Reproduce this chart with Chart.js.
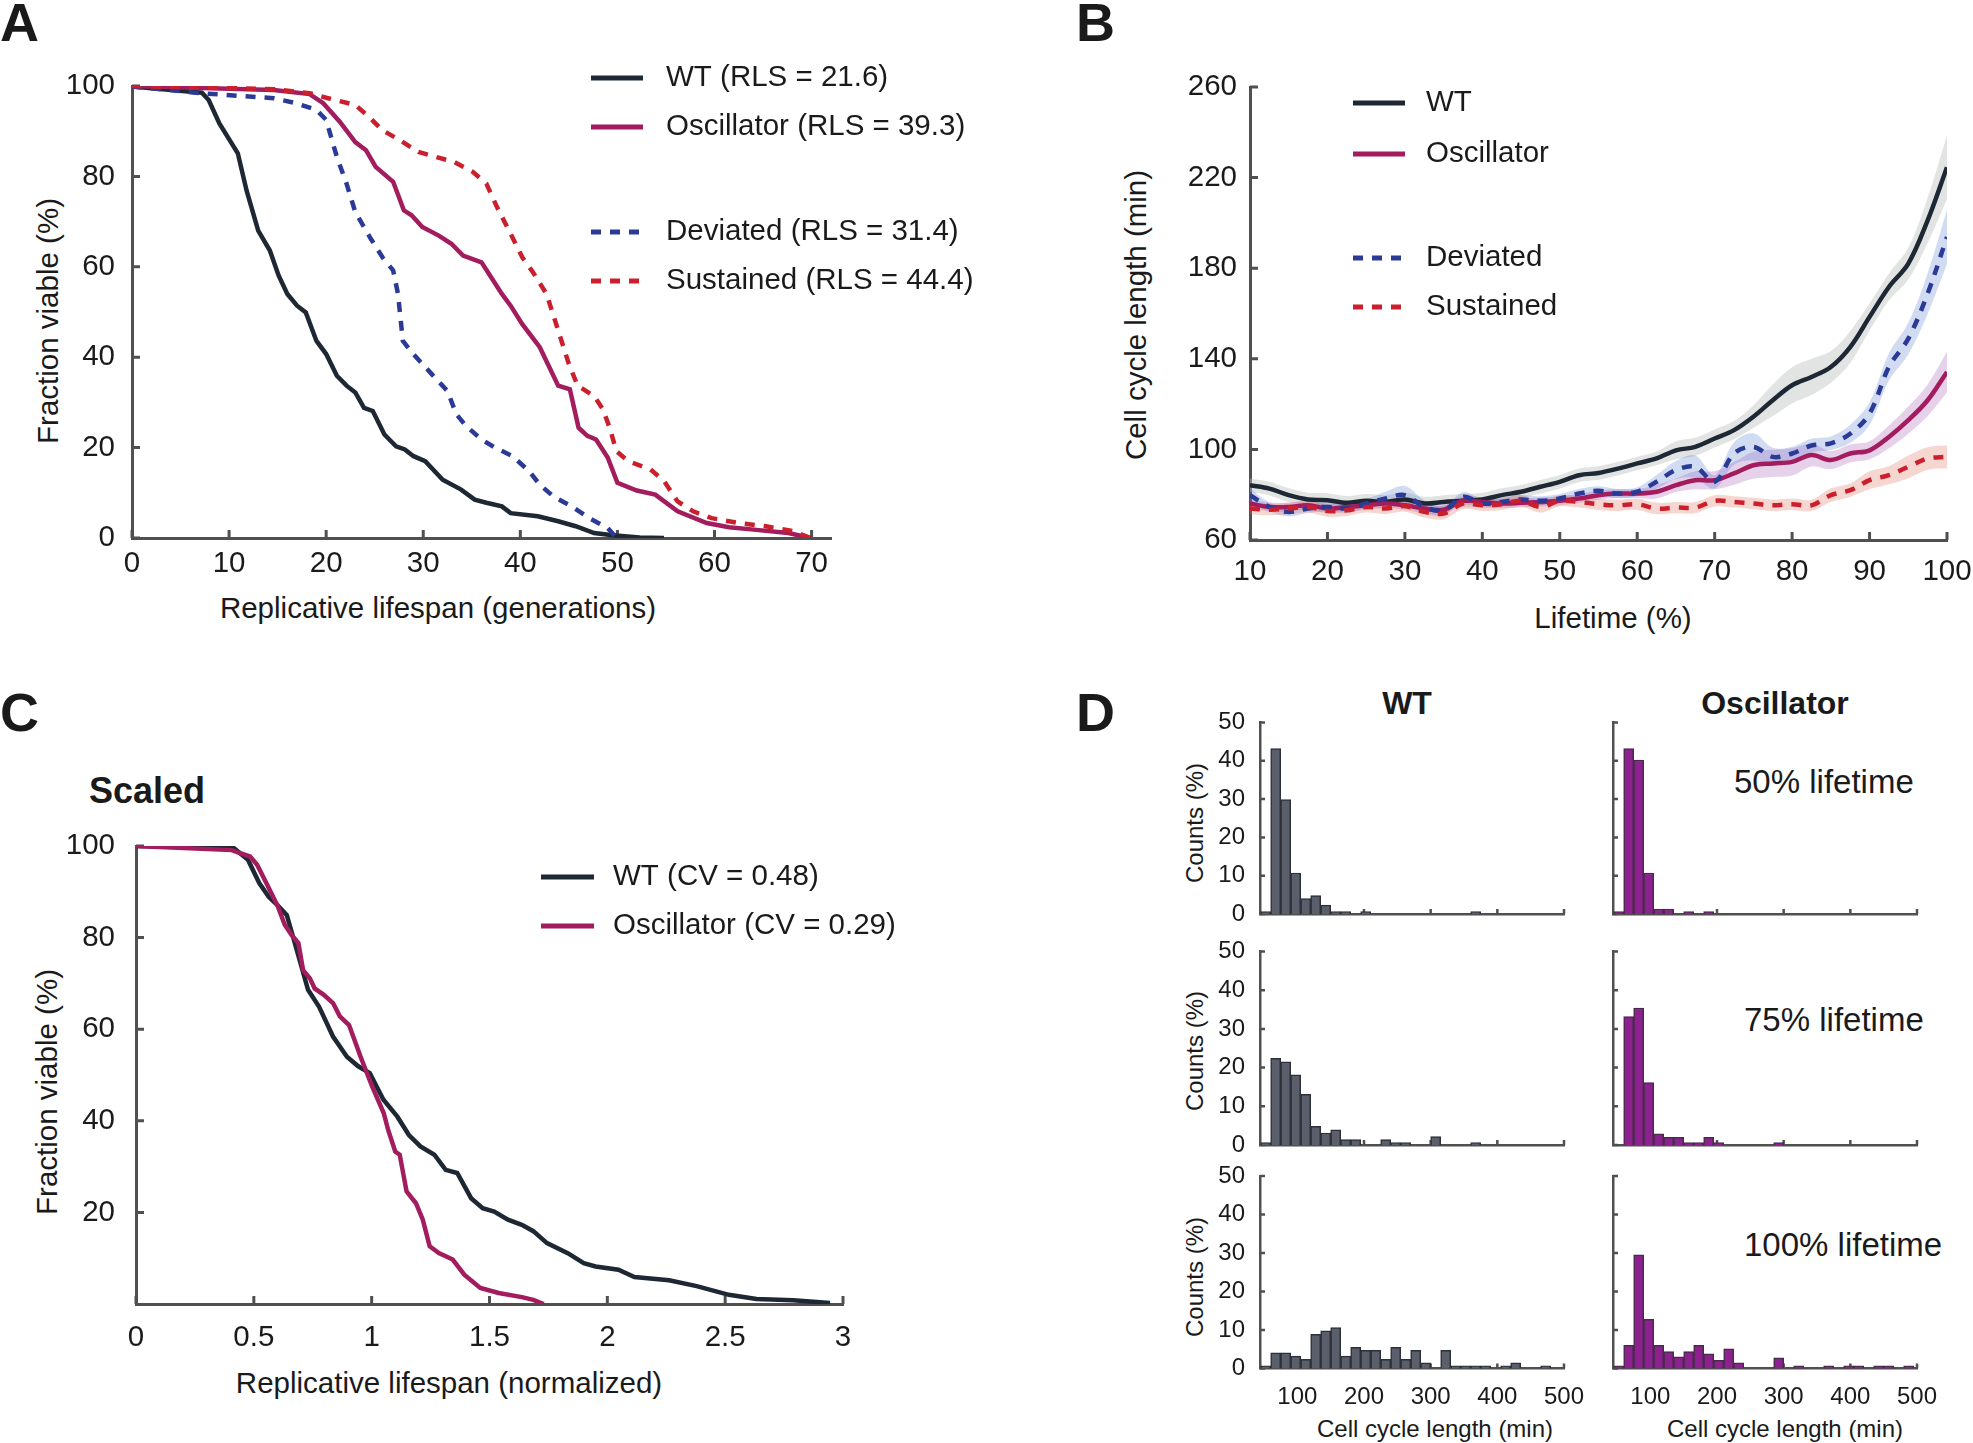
<!DOCTYPE html>
<html lang="en">
<head>
<meta charset="UTF-8">
<title>Replicative lifespan and cell cycle length</title>
<script src="https://cdn.jsdelivr.net/npm/chart.js"></script>
<style>
  body {
    margin: 0;
    width: 1973px;
    height: 1443px;
    position: relative;
    overflow: hidden;
    background: #fff;
    font-family: 'Liberation Sans', Arial, Helvetica, sans-serif;
    color: #1a1a1a;
  }
  canvas { position: absolute; }
  .txt { position: absolute; white-space: nowrap; line-height: 1; transform: translate(-50%, -50%); }
  .left { transform: translate(0, -50%); }
  .rot { transform: translate(-50%, -50%) rotate(-90deg); }
  .panel { font-size: 54px; font-weight: bold; }
  .big { font-size: 29.5px; }
  .small { font-size: 24px; }
  .head { font-size: 32px; font-weight: bold; }
  .note { font-size: 33px; }
</style>
</head>
<body>
  <div class="txt left panel" style="left:0;top:22px">A</div>
  <div class="txt left panel" style="left:1076px;top:22px">B</div>
  <div class="txt left panel" style="left:0;top:712px">C</div>
  <div class="txt left panel" style="left:1076px;top:712px">D</div>

  <div class="txt rot big" style="left:48px;top:321px">Fraction viable (%)</div>
  <div class="txt big" style="left:438px;top:608px">Replicative lifespan (generations)</div>
  <div class="txt rot big" style="left:1136px;top:315px">Cell cycle length (min)</div>
  <div class="txt big" style="left:1613px;top:618px">Lifetime (%)</div>

  <div class="txt left" style="left:89px;top:791px;font-size:36px;font-weight:bold">Scaled</div>
  <div class="txt rot big" style="left:47px;top:1092px">Fraction viable (%)</div>
  <div class="txt big" style="left:449px;top:1383px">Replicative lifespan (normalized)</div>

  <div class="txt head" style="left:1407px;top:703px">WT</div>
  <div class="txt head" style="left:1775px;top:703px">Oscillator</div>
  <div class="txt left note" style="left:1734px;top:781px">50% lifetime</div>
  <div class="txt left note" style="left:1744px;top:1019px">75% lifetime</div>
  <div class="txt left note" style="left:1744px;top:1244px">100% lifetime</div>
  <div class="txt rot small" style="left:1195px;top:823px">Counts (%)</div>
  <div class="txt rot small" style="left:1195px;top:1051px">Counts (%)</div>
  <div class="txt rot small" style="left:1195px;top:1277px">Counts (%)</div>
  <div class="txt small" style="left:1435px;top:1429px">Cell cycle length (min)</div>
  <div class="txt small" style="left:1785px;top:1429px">Cell cycle length (min)</div>

  <canvas id="chartA"></canvas>
  <canvas id="chartB"></canvas>
  <canvas id="chartC"></canvas>
  <canvas id="d1"></canvas>
  <canvas id="d2"></canvas>
  <canvas id="d3"></canvas>
  <canvas id="d4"></canvas>
  <canvas id="d5"></canvas>
  <canvas id="d6"></canvas>

<script>
// ---- Panel A: fraction viable vs generations ----
const aTicksX = [0, 10, 20, 30, 40, 50, 60, 70];
const aTicksY = [0, 20, 40, 60, 80, 100];
const aWTx = [0, 7.2, 7.9, 9.0, 10.9, 11.8, 13.0, 14.2, 15.1, 16.0, 17.0, 17.9, 19.0, 20.0, 21.1, 22.1, 23.0, 23.9, 24.8, 26.0, 27.2, 28.1, 29.0, 30.2, 32.0, 33.9, 35.3, 36.5, 38.1, 39.0, 41.8, 43.9, 45.7, 47.6, 49.5, 52.3, 54.8];
const aWTy = [99.9, 98.5, 96.9, 91.7, 85.1, 76.9, 68.0, 63.6, 58.1, 54.0, 51.4, 49.9, 43.6, 40.7, 35.9, 33.7, 32.2, 28.8, 28.1, 22.9, 20.3, 19.6, 18.1, 17.0, 12.9, 10.7, 8.5, 7.8, 7.0, 5.5, 4.8, 3.7, 2.6, 1.1, 0.6, 0.1, 0];
const aOscx = [0, 14.6, 18.3, 19.7, 21.4, 23.0, 24.1, 25.1, 26.9, 28.0, 28.8, 29.9, 31.6, 32.9, 34.1, 36.0, 38.1, 39.0, 40.2, 42.0, 43.9, 45.1, 46.0, 46.9, 47.8, 49.0, 50.0, 52.0, 53.9, 56.2, 59.2, 61.5, 64.3, 67.6, 69.9];
const aOscy = [100, 99.1, 98.2, 96.2, 92.1, 87.6, 85.8, 82.1, 78.8, 72.5, 71.4, 68.8, 66.9, 65.1, 62.5, 61.0, 54.0, 51.4, 47.3, 42.2, 33.7, 32.9, 24.4, 22.6, 21.8, 17.8, 12.2, 10.5, 9.6, 5.9, 3.3, 2.4, 1.8, 1.1, 0];
const aDevx = [0, 7.2, 14.6, 16.9, 19.0, 20.0, 21.1, 22.1, 23.0, 24.6, 25.8, 26.9, 27.4, 27.9, 28.8, 30.9, 32.5, 33.4, 34.4, 36.0, 37.4, 39.2, 40.9, 42.0, 43.4, 45.3, 47.1, 49.0, 49.9];
const aDevy = [99.9, 98.4, 97.3, 96.2, 94.7, 92.5, 84.3, 78.4, 72.1, 66.2, 62.1, 59.2, 54.0, 43.6, 41.1, 36.2, 32.5, 27.4, 24.8, 21.8, 20.0, 18.1, 14.8, 11.8, 9.2, 7.0, 4.4, 2.2, 0];
const aSusx = [0, 14.6, 18.3, 20.2, 23.0, 24.4, 25.8, 27.6, 29.5, 31.3, 33.2, 35.1, 36.5, 37.6, 39.0, 40.2, 41.3, 42.7, 43.9, 45.0, 45.9, 47.6, 48.5, 49.2, 49.9, 51.1, 53.4, 54.8, 56.2, 57.8, 59.7, 62.5, 65.3, 68.1, 69.9];
const aSusy = [100, 99.3, 98.4, 97.3, 95.8, 93.2, 90.2, 88.0, 85.4, 84.3, 83.2, 81.0, 78.4, 73.2, 67.3, 62.1, 58.8, 54.0, 45.9, 38.5, 33.7, 31.4, 28.5, 24.4, 19.2, 17.0, 15.2, 12.6, 8.1, 5.9, 4.4, 3.3, 2.6, 1.5, 0];

// ---- Panel B: cell cycle length vs lifetime (mean and band half-width) ----
const bTicksX = [10, 20, 30, 40, 50, 60, 70, 80, 90, 100];
const bTicksY = [60, 100, 140, 180, 220, 260];
const bX = [10, 12.5, 15, 17.5, 20, 22.5, 25, 27.5, 30, 32.5, 35, 37.5, 40, 42.5, 45, 47.5, 50, 52.5, 55, 57.5, 60, 62.5, 65, 67.5, 70, 72.5, 75, 77.5, 80, 82.5, 85, 87.5, 90, 92.5, 95, 97.5, 100];
const bWT = [84.2, 82.7, 79.8, 77.9, 77.6, 76.4, 77.3, 76.8, 77.9, 76.1, 76.8, 77.3, 77.9, 79.8, 81.3, 83.5, 85.7, 88.6, 89.6, 91.5, 93.8, 96.0, 99.6, 101.1, 104.8, 108.5, 114.4, 121.7, 128.3, 132.0, 136.4, 145.2, 158.5, 171.7, 182.0, 201.1, 224.6];
const bWTerr = [3, 3, 3, 3, 3, 3, 3, 3, 3, 3, 3, 3, 3, 3, 3, 3, 3, 3, 3, 3, 3, 3, 4, 4, 4, 4, 5, 7, 8, 8, 7, 7, 6, 6, 7, 10, 14];
const bOsc = [76.1, 74.6, 74.6, 75.3, 73.9, 74.6, 75.3, 76.1, 75.3, 73.9, 73.4, 77.3, 76.8, 76.1, 76.4, 76.8, 77.3, 78.3, 79.8, 80.5, 80.5, 81.3, 84.2, 86.4, 86.4, 89.4, 93.0, 93.8, 94.5, 97.5, 95.3, 98.2, 99.6, 105.5, 112.9, 121.7, 134.2];
const bOscErr = [2, 2, 2, 2, 2, 2, 2, 2, 2, 2, 2, 2, 2, 2, 2, 2, 2, 2, 2, 2, 2, 3, 3, 4, 4, 5, 6, 6, 6, 5, 4, 4, 4, 5, 6, 7, 9];
const bDev = [79.8, 74.6, 72.4, 73.9, 74.6, 73.9, 76.1, 78.3, 79.8, 74.6, 73.1, 79.1, 76.1, 76.8, 77.9, 77.3, 78.3, 80.5, 81.7, 80.5, 81.3, 85.7, 90.9, 92.3, 85.7, 98.2, 101.1, 96.7, 98.2, 101.7, 102.7, 106.9, 115.8, 136.4, 148.9, 168.8, 193.8];
const bDevErr = [3, 2, 2, 2, 2, 2, 2, 3, 4, 3, 2, 2, 2, 2, 2, 2, 2, 2, 2, 2, 2, 3, 4, 5, 3, 5, 6, 4, 3, 3, 3, 4, 5, 6, 7, 9, 12];
const bSus = [73.9, 73.4, 73.9, 74.6, 72.8, 73.1, 74.6, 73.9, 75.0, 72.4, 71.7, 76.1, 75.3, 75.8, 77.3, 74.6, 77.3, 76.8, 75.8, 75.3, 75.8, 73.9, 74.3, 74.3, 77.3, 76.8, 76.1, 75.3, 75.8, 75.3, 79.8, 82.0, 86.4, 88.6, 92.3, 96.0, 96.7];
const bSusErr = [2.5, 2.5, 2.5, 2.5, 2.5, 2.5, 2.5, 2.5, 2.5, 2.5, 2.5, 2.5, 2.5, 2.5, 2.5, 2.5, 2.5, 2.5, 2.5, 2.5, 2.5, 2.5, 2.5, 2.5, 2.5, 2.5, 2.5, 2.5, 2.5, 2.5, 3, 3, 4, 4, 5, 5, 5];

// ---- Panel C: scaled survival ----
const cTicksX = [0, 0.5, 1, 1.5, 2, 2.5, 3];
const cTicksY = [20, 40, 60, 80, 100];
const cWTx = [0, 0.416, 0.475, 0.523, 0.563, 0.60, 0.64, 0.67, 0.73, 0.777, 0.836, 0.895, 0.943, 0.992, 1.05, 1.109, 1.158, 1.207, 1.266, 1.314, 1.363, 1.422, 1.471, 1.52, 1.578, 1.637, 1.686, 1.744, 1.832, 1.9, 1.95, 2.047, 2.115, 2.262, 2.379, 2.516, 2.633, 2.789, 2.945];
const cWTy = [100, 99.5, 97.0, 91.9, 88.9, 87.1, 84.9, 79.5, 68.6, 64.9, 58.4, 54.0, 51.9, 50.4, 44.6, 40.9, 36.9, 34.4, 32.6, 29.3, 28.6, 23.1, 20.9, 20.2, 18.4, 17.3, 15.9, 13.3, 11.1, 8.9, 8.2, 7.5, 5.9, 5.2, 3.9, 2.0, 1.1, 0.8, 0.2];
const cOscx = [0, 0.406, 0.445, 0.484, 0.514, 0.553, 0.602, 0.631, 0.66, 0.689, 0.709, 0.738, 0.758, 0.797, 0.836, 0.865, 0.904, 0.953, 1.002, 1.051, 1.07, 1.1, 1.119, 1.148, 1.188, 1.217, 1.246, 1.285, 1.344, 1.393, 1.461, 1.539, 1.637, 1.686, 1.73];
const cOscy = [100, 99.1, 98.4, 97.7, 95.9, 91.9, 86.8, 82.8, 80.6, 78.8, 72.9, 71.1, 68.9, 67.5, 65.7, 62.8, 60.9, 54.0, 47.5, 41.7, 38.0, 33.3, 32.6, 24.6, 22.0, 18.4, 12.6, 11.1, 9.7, 6.4, 3.5, 2.4, 1.5, 0.9, 0];

// ---- Panel D: cell cycle length histograms (bin centres, min) ----
const dTicksX = [100, 200, 300, 400, 500];
const dTicksY = [0, 10, 20, 30, 40, 50];
const dBins = [52.5, 67.5, 82.5, 97.5, 112.5, 127.5, 142.5, 157.5, 172.5, 187.5, 202.5, 217.5, 232.5, 247.5, 262.5, 277.5, 292.5, 307.5, 322.5, 337.5, 352.5, 367.5, 382.5, 397.5, 412.5, 427.5, 442.5, 457.5, 472.5, 487.5];
const dWT50 = [0.6, 43.2, 29.9, 10.7, 4.0, 4.8, 2.3, 0.6, 0.6, 0, 0.6, 0, 0, 0, 0, 0, 0, 0, 0, 0, 0, 0.6, 0, 0, 0, 0, 0, 0, 0, 0];
const dOsc50 = [0.6, 43.2, 40.2, 10.7, 1.3, 1.3, 0, 0.6, 0, 0.6, 0, 0, 0, 0, 0, 0, 0, 0, 0, 0, 0, 0, 0, 0, 0, 0, 0, 0, 0, 0];
const dWT75 = [0.6, 22.4, 21.5, 18.1, 13.1, 4.8, 3.1, 3.9, 1.4, 1.4, 0, 0, 1.4, 0.6, 0.6, 0, 0, 2.2, 0, 0, 0, 0.6, 0, 0, 0, 0, 0, 0, 0, 0];
const dOsc75 = [0, 33.2, 35.4, 16.1, 2.9, 2.0, 2.0, 0.6, 0.6, 2.0, 0.6, 0, 0, 0, 0, 0, 0.6, 0, 0, 0, 0, 0, 0, 0, 0, 0, 0, 0, 0, 0];
const dWT100 = [0.7, 4.1, 4.1, 3.2, 2.4, 8.9, 9.8, 10.6, 3.2, 5.5, 4.7, 4.7, 2.4, 5.5, 2.4, 4.7, 1.5, 0, 4.7, 0.7, 0.7, 0.7, 0.7, 0, 0.7, 1.5, 0, 0, 0.7, 0];
const dOsc100 = [0.7, 6.0, 29.5, 12.8, 6.0, 4.4, 3.0, 4.4, 6.0, 3.8, 2.1, 5.1, 1.5, 0, 0, 0, 2.8, 0, 0.7, 0, 0, 0.7, 0, 0.7, 0.7, 0, 0.7, 0.7, 0, 0.7];

const colWT = '#1e2834', colOsc = '#a31c5e', colDev = '#2b3a97', colSus = '#cc1f2d';
const AXIS = '#505050';
const FONT = "'Liberation Sans', Arial, Helvetica, sans-serif";
const DOT = [10, 9];

Chart.defaults.font.family = FONT;
Chart.defaults.color = '#1a1a1a';
Chart.defaults.animation = false;
Chart.defaults.plugins.legend.display = false;
Chart.defaults.plugins.tooltip.enabled = false;

// tick marks pointing into the plot, like the original figure
Chart.register({
  id: 'inTicks',
  beforeDatasetsDraw(chart, args, o) {
    if (!o.len) return;
    const ctx = chart.ctx, a = chart.chartArea;
    const sx = chart.scales.x, sy = chart.scales.y;
    ctx.save();
    ctx.strokeStyle = AXIS;
    ctx.lineWidth = o.width;
    ctx.beginPath();
    sx.ticks.forEach(t => {
      const p = sx.getPixelForValue(t.value);
      ctx.moveTo(p, a.bottom); ctx.lineTo(p, a.bottom - o.len);
    });
    sy.ticks.forEach(t => {
      const p = sy.getPixelForValue(t.value);
      ctx.moveTo(a.left, p); ctx.lineTo(a.left + o.len, p);
    });
    ctx.stroke();
    ctx.restore();
  }
});

// free-standing legend with custom row positions
Chart.register({
  id: 'sideLegend',
  afterDraw(chart, args, o) {
    if (!o.items) return;
    const ctx = chart.ctx;
    ctx.save();
    o.items.forEach(it => {
      const ds = chart.data.datasets[it.index];
      ctx.strokeStyle = ds.borderColor;
      ctx.lineWidth = 5;
      ctx.lineCap = 'butt';
      ctx.setLineDash(ds.borderDash || []);
      ctx.beginPath();
      ctx.moveTo(o.x1, it.y);
      ctx.lineTo(o.x2, it.y);
      ctx.stroke();
      ctx.setLineDash([]);
      ctx.fillStyle = '#1a1a1a';
      ctx.font = '29.5px ' + FONT;
      ctx.textAlign = 'left';
      ctx.textBaseline = 'middle';
      ctx.fillText(ds.label, o.tx, it.y);
    });
    ctx.restore();
  }
});

const pts = (xs, ys) => xs.map((x, i) => ({ x: x, y: ys[i] }));

function scale(axis, o) {
  return {
    type: 'linear',
    min: o.min,
    max: o.max,
    offset: false,
    grid: { display: false },
    border: { display: true, color: AXIS, width: o.lw },
    ticks: {
      display: o.show !== false,
      padding: o.pad,
      font: { size: o.font },
      color: '#1a1a1a',
      autoSkip: false,
      maxRotation: 0,
      callback: v => String(v)
    },
    afterBuildTicks: s => { s.ticks = o.ticks.map(v => ({ value: v })); },
    afterFit: s => {
      if (axis === 'x') s.height = o.size; else s.width = o.size;
      s.paddingLeft = 0; s.paddingRight = 0; s.paddingTop = 0; s.paddingBottom = 0;
    }
  };
}

function make(id, box, area, xs, ys, type, datasets, plugins) {
  const c = document.getElementById(id);
  c.width = box.w;
  c.height = box.h;
  c.style.left = box.x + 'px';
  c.style.top = box.y + 'px';
  return new Chart(c, {
    type: type,
    data: { datasets: datasets },
    options: {
      responsive: false,
      devicePixelRatio: 1,
      layout: {
        padding: {
          left: area.l - box.x - ys.size,
          top: area.t - box.y,
          right: box.x + box.w - area.r,
          bottom: box.y + box.h - area.b - xs.size
        }
      },
      scales: { x: scale('x', xs), y: scale('y', ys) },
      plugins: plugins
    }
  });
}

// lower "order" is painted on top
function curve(label, xs, ys, color, dash, order, tension) {
  return {
    label: label,
    data: pts(xs, ys),
    borderColor: color,
    borderWidth: 4.5,
    borderDash: dash || [],
    borderCapStyle: 'butt',
    pointRadius: 0,
    tension: tension || 0,
    fill: false,
    order: order
  };
}

function band(mean, err, color, order) {
  return [
    { data: pts(bX, mean.map((v, i) => v + err[i])), borderColor: 'rgba(0,0,0,0)', borderWidth: 1, pointRadius: 0, tension: 0.35, fill: '+1', backgroundColor: color, order: order },
    { data: pts(bX, mean.map((v, i) => v - err[i])), borderColor: 'rgba(0,0,0,0)', borderWidth: 1, pointRadius: 0, tension: 0.35, fill: false, order: order }
  ];
}

function bars(ys, fill, edge) {
  return {
    data: pts(dBins, ys),
    backgroundColor: fill,
    borderColor: edge,
    borderWidth: 1.5,
    barPercentage: 1,
    categoryPercentage: 1
  };
}

// Panel A
make('chartA', { x: 0, y: 0, w: 1000, h: 660 }, { l: 132, t: 86, r: 831, b: 538 },
  { min: 0, max: 72, ticks: aTicksX, size: 60, pad: 0, font: 29.5, lw: 3 },
  { min: 0, max: 100, ticks: aTicksY, size: 100, pad: 9, font: 29.5, lw: 3 },
  'line',
  [
    curve('WT (RLS = 21.6)', aWTx, aWTy, colWT, null, 4),
    curve('Oscillator (RLS = 39.3)', aOscx, aOscy, colOsc, null, 3),
    curve('Deviated (RLS = 31.4)', aDevx, aDevy, colDev, DOT, 2),
    curve('Sustained (RLS = 44.4)', aSusx, aSusy, colSus, DOT, 1)
  ],
  {
    inTicks: { len: 8, width: 3 },
    sideLegend: { x1: 591, x2: 643, tx: 666, items: [ { index: 0, y: 78 }, { index: 1, y: 127 }, { index: 2, y: 232 }, { index: 3, y: 281 } ] }
  });

// Panel B
make('chartB', { x: 1060, y: 0, w: 913, h: 660 }, { l: 1250, t: 87, r: 1947, b: 540 },
  { min: 10, max: 100, ticks: bTicksX, size: 60, pad: 6, font: 29.5, lw: 3 },
  { min: 60, max: 260, ticks: bTicksY, size: 100, pad: 5, font: 29.5, lw: 3 },
  'line',
  [
    curve('WT', bX, bWT, colWT, null, 4, 0.35),
    curve('Oscillator', bX, bOsc, colOsc, null, 3, 0.35),
    curve('Deviated', bX, bDev, colDev, DOT, 2, 0.35),
    curve('Sustained', bX, bSus, colSus, DOT, 1, 0.35)
  ].concat(
    band(bWT, bWTerr, 'rgba(190,196,196,0.45)', 13),
    band(bOsc, bOscErr, 'rgba(165,90,180,0.28)', 12),
    band(bDev, bDevErr, 'rgba(90,125,210,0.28)', 11),
    band(bSus, bSusErr, 'rgba(225,120,100,0.3)', 10)
  ),
  {
    inTicks: { len: 8, width: 3 },
    sideLegend: { x1: 293, x2: 345, tx: 366, items: [ { index: 0, y: 103 }, { index: 1, y: 154 }, { index: 2, y: 258 }, { index: 3, y: 307 } ] }
  });

// Panel C
make('chartC', { x: 0, y: 680, w: 1000, h: 760 }, { l: 136, t: 846, r: 843, b: 1304 },
  { min: 0, max: 3, ticks: cTicksX, size: 60, pad: 8, font: 29.5, lw: 3 },
  { min: 0, max: 100, ticks: cTicksY, size: 100, pad: 13, font: 29.5, lw: 3 },
  'line',
  [
    curve('WT (CV = 0.48)', cWTx, cWTy, colWT, null, 2),
    curve('Oscillator (CV = 0.29)', cOscx, cOscy, colOsc, null, 1)
  ],
  {
    inTicks: { len: 8, width: 3 },
    sideLegend: { x1: 541, x2: 594, tx: 613, items: [ { index: 0, y: 197 }, { index: 1, y: 246 } ] }
  });

// Panel D: 3 rows x 2 columns of histograms
const wtFill = '#5a5f6b', wtEdge = '#2c3039';
const oscFill = '#8d2190', oscEdge = '#4a2a4c';
const rows = [
  { box: { y: 705, h: 230 }, t: 722.5, b: 914, last: false, wt: dWT50, osc: dOsc50 },
  { box: { y: 940, h: 230 }, t: 951.5, b: 1145, last: false, wt: dWT75, osc: dOsc75 },
  { box: { y: 1165, h: 250 }, t: 1176, b: 1368.5, last: true, wt: dWT100, osc: dOsc100 }
];
rows.forEach((r, i) => {
  const xs = { min: 44, max: 500, ticks: dTicksX, show: r.last, size: r.last ? 40 : 10, pad: 6, font: 24, lw: 2.5 };
  make('d' + (2 * i + 1), { x: 1100, y: r.box.y, w: 500, h: r.box.h }, { l: 1260, t: r.t, r: 1564, b: r.b },
    xs,
    { min: 0, max: 50, ticks: dTicksY, size: 60, pad: 7, font: 24, lw: 2.5 },
    'bar', [bars(r.wt, wtFill, wtEdge)], { inTicks: { len: 5, width: 2.5 } });
  make('d' + (2 * i + 2), { x: 1590, y: r.box.y, w: 383, h: r.box.h }, { l: 1613, t: r.t, r: 1917, b: r.b },
    xs,
    { min: 0, max: 50, ticks: dTicksY, show: false, size: 10, pad: 0, font: 24, lw: 2.5 },
    'bar', [bars(r.osc, oscFill, oscEdge)], { inTicks: { len: 5, width: 2.5 } });
});
</script>
</body>
</html>
